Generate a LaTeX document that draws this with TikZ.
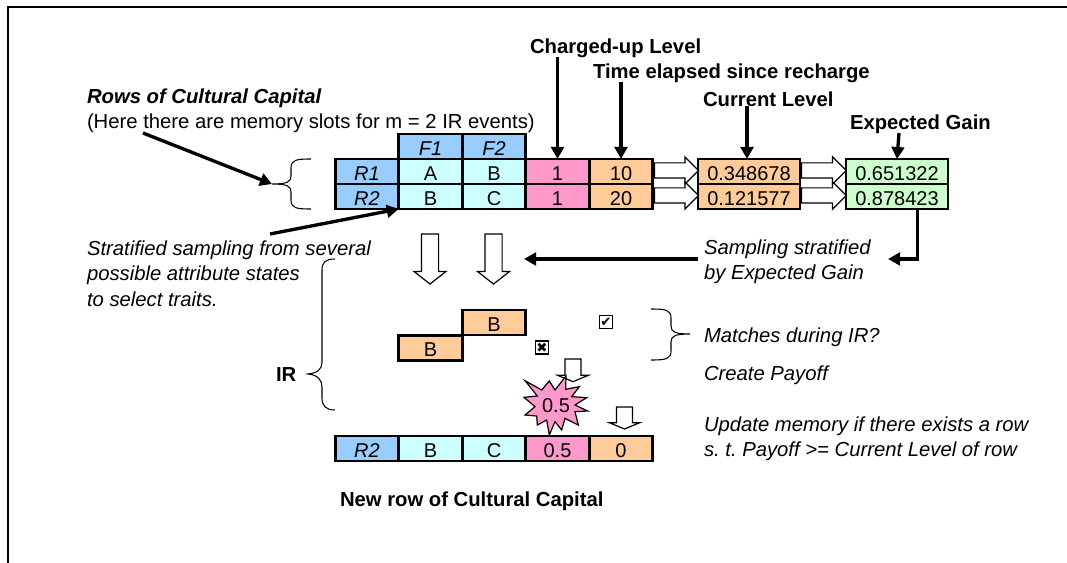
\documentclass[tikz,border=0pt]{standalone}
\usepackage{fontspec}
\setmainfont{Liberation Sans}
\newfontfamily\symfont{DejaVu Sans}
\usetikzlibrary{shapes.arrows,arrows.meta}
\definecolor{cblue}{HTML}{99CCFF}
\definecolor{ccyan}{HTML}{CCFFFF}
\definecolor{cpink}{HTML}{FF99CC}
\definecolor{corange}{HTML}{FFCC99}
\definecolor{cgreen}{HTML}{CCFFCC}
\frenchspacing
\tikzset{
  x=0.75pt,y=-0.75pt,
  txt/.style={font=\fontsize{15.2}{19}\selectfont,inner sep=0pt,outer sep=0pt,anchor=west,align=left},
  ltxt/.style={txt,font=\fontsize{15.2}{19}\selectfont\itshape},
  btxt/.style={txt,font=\fontsize{15.2}{19}\selectfont\bfseries},
  cell/.style={draw=black,line width=2.2pt,inner sep=0pt,outer sep=0pt,minimum width=47.6pt,minimum height=18.75pt,
     font=\fontsize{15}{19}\selectfont,text height=13pt,text depth=0pt},
  wcell/.style={cell,minimum width=76.5pt},
  icell/.style={cell,font=\fontsize{15}{19}\selectfont\itshape},
  arr/.style={line width=2.5pt,-{Triangle[length=9pt,width=9.5pt]}},
  hollow/.style={draw=black,fill=white,line width=0.9pt,single arrow,anchor=tail,inner sep=0pt,outer sep=0pt,
     single arrow head indent=0pt},
  hright/.style={hollow,minimum width=19.5pt,single arrow head extend=4.5pt,single arrow tip angle=90,text width=10.5pt,text height=10.5pt,text depth=0pt},
  hdown/.style={hollow,shape border rotate=270,minimum width=23pt,single arrow head extend=5.5pt,single arrow tip angle=104,text width=12pt},
  hsmall/.style={hollow,shape border rotate=270,minimum width=22pt,single arrow head extend=5.5pt,single arrow tip angle=135,text width=11pt},
  brace/.style={draw=black,line width=0.8pt},
  tick/.style={draw=black,fill=white,line width=1.1pt,inner sep=0pt,minimum size=10pt,font=\symfont\fontsize{10}{10}\selectfont},
}
\begin{document}
\begin{tikzpicture}
\useasboundingbox (0,0) rectangle (1067,563);
\draw[line width=1.6pt] (1067,7.3) -- (8,7.3) -- (8,563);

% labels
\node[btxt] (lcharged) at (530,48) {Charged-up Level};
\node[btxt] (ltime) at (593,73) {Time elapsed since recharge};
\node[btxt] (lcurrent) at (703,99) {Current Level};
\node[btxt] (lgain) at (850,124) {Expected Gain};
\node[txt] (lrows) at (87,111) {\textbf{\textit{Rows of Cultural Capital}}\\(Here there are memory slots for m = 2 IR events)};
\node[ltxt] (lstrat) at (87,273.5) {Stratified sampling from several\\possible attribute states\\to select traits.};
\node[ltxt] (lsamp) at (704,261.5) {Sampling stratified\\by Expected Gain};
\node[btxt] (lir) at (276,374.5) {IR};
\node[ltxt] (lmatch) at (704,337) {Matches during IR?};
\node[ltxt] (lpayoff) at (704,375) {Create Payoff};
\node[ltxt] (lupdate) at (704,438.5) {Update memory if there exists a row\\s. t. Payoff >= Current Level of row};
\node[btxt] (lnew) at (340,501) {New row of Cultural Capital};

% header
\node[icell,fill=cblue] (f1) at (430.5,146.5) {F1};
\node[icell,fill=cblue] (f2) at (494,146.5) {F2};
% row 1
\node[icell,fill=cblue] (r11) at (367,171.5) {R1};
\node[cell,fill=ccyan] (r12) at (430.5,171.5) {A};
\node[cell,fill=ccyan] (r13) at (494,171.5) {B};
\node[cell,fill=cpink] (r14) at (557.5,171.5) {1};
\node[cell,fill=corange] (r15) at (621,171.5) {10};
\node[wcell,fill=corange] (r16) at (749,171.5) {0.348678};
\node[wcell,fill=cgreen] (r17) at (897,171.5) {0.651322};
% row 2
\node[icell,fill=cblue] (r21) at (367,196.5) {R2};
\node[cell,fill=ccyan] (r22) at (430.5,196.5) {B};
\node[cell,fill=ccyan] (r23) at (494,196.5) {C};
\node[cell,fill=cpink] (r24) at (557.5,196.5) {1};
\node[cell,fill=corange] (r25) at (621,196.5) {20};
\node[wcell,fill=corange] (r26) at (749,196.5) {0.121577};
\node[wcell,fill=cgreen] (r27) at (897,196.5) {0.878423};

% hollow arrows between columns
\node[hright,minimum height=33pt] (h1) at (654.5,170.5) {};
\node[hright,minimum height=33pt] (h2) at (654.5,195.5) {};
\node[hright,minimum height=33.5pt] (h3) at (801.5,170.5) {};
\node[hright,minimum height=33.5pt] (h4) at (801.5,195.5) {};

% hollow down arrows
\node[hdown,minimum height=37.5pt] (d1) at (430,234) {};
\node[hdown,minimum height=37.5pt] (d2) at (493.5,234) {};
\node[hsmall,minimum height=17pt] (d3) at (573,359) {};
\node[hsmall,minimum height=16.5pt] (d4) at (624.5,407) {};

% matching cells
\node[cell,fill=corange] (mb1) at (494,322.5) {B};
\node[cell,fill=corange] (mb2) at (430.5,348) {B};
\node[tick] (cy) at (606,322) {\symfont ✔};
\node[tick] (cx) at (542,347.5) {\symfont ✖};

% new row
\node[icell,fill=cblue] (n1) at (367,448.5) {R2};
\node[cell,fill=ccyan] (n2) at (430.5,448.5) {B};
\node[cell,fill=ccyan] (n3) at (494,448.5) {C};
\node[cell,fill=cpink] (n4) at (557.5,448.5) {0.5};
\node[cell,fill=corange] (n5) at (621,448.5) {0};

% star
\begin{scope}[shift={(320,290)},x=0.25pt,y=-0.25pt]
\draw[fill=cpink,line width=0.9pt] (615,272)--(665,300)--(688,273)--(705,300)--(738,258)--(737,298)--(778,290)--(755,320)--(800,323)--(765,345)--(803,363)--(765,365)--(775,405)--(735,385)--(725,420)--(705,395)--(688,435)--(680,390)--(652,405)--(650,378)--(615,375)--(645,350)--(612,322)--(652,318)--cycle;
\end{scope}
\node[font=\fontsize{15}{19}\selectfont,inner sep=0pt] (star) at (556,405.5) {0.5};

% braces
\coordinate (bt) at (272,184);
\draw[brace] (311,159) .. controls (296,159) and (291,160) .. (291,168) -- (291,176) .. controls (291,182) and (287,184) .. (bt) .. controls (287,184) and (291,186) .. (291,192) -- (291,200) .. controls (291,208) and (296,209) .. (311,209);
\draw[brace] (335,259) .. controls (326,259) and (322,262) .. (322,270) -- (322,362) .. controls (322,369) and (318,373) .. (308,374) .. controls (318,375) and (322,380) .. (322,387) -- (322,398) .. controls (322,406) and (326,410) .. (335,410);
\draw[brace] (651,309) .. controls (666,309) and (671,310) .. (671,318) -- (671,326) .. controls (671,332) and (675,334) .. (690,334) .. controls (675,334) and (671,336) .. (671,342) -- (671,351) .. controls (671,359) and (666,360) .. (651,360);

% connectors
\coordinate (rowsstart) at (143,133);
\coordinate (stratstart) at (270,234);
\coordinate (gainstart) at (899,133);
\draw[arr] (rowsstart) -- (bt);
\draw[arr] (stratstart) -- (r21.south east);
\draw[arr] (r14.north |- lcharged.south) -- (r14.north);
\draw[arr] (r15.north |- ltime.south) -- (r15.north);
\draw[arr] ([xshift=-1.5pt]r16.north |- lcurrent.south) -- ([xshift=-1.5pt]r16.north);
\draw[arr] (gainstart) -- (r17.north);
\coordinate (samptip) at (524,259);
\draw[arr] (lsamp.west |- samptip) ++(-6,0) -- (samptip);
\coordinate (gaintip) at (888,259);
\draw[arr] ([xshift=15.5pt]r27.south) |- (gaintip);
\end{tikzpicture}
\end{document}
